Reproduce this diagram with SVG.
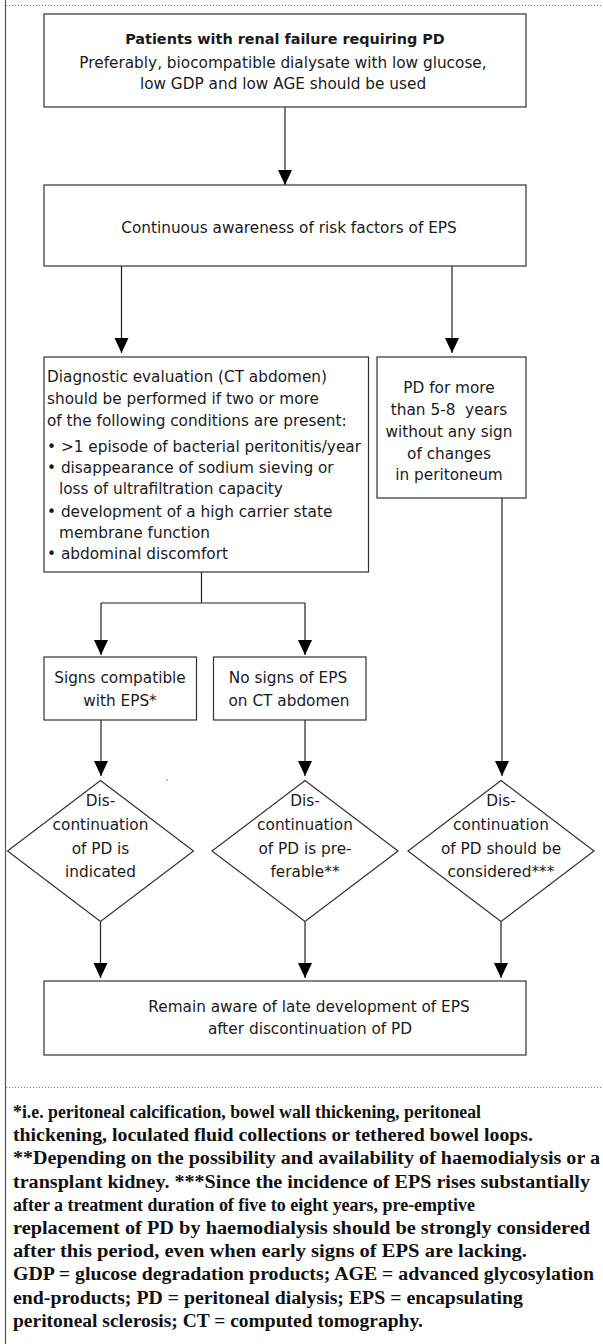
<svg xmlns="http://www.w3.org/2000/svg" width="603" height="1344" viewBox="0 0 603 1344">
<style>
.box{fill:#fff;stroke:#333;stroke-width:1.2}
.t{font-family:"DejaVu Sans","Liberation Sans",sans-serif;font-size:15.3px;fill:#1a1a1a}
.c{text-anchor:middle}
.b{font-weight:bold;font-size:14.4px}
.fn{font-family:"Liberation Serif","Times New Roman",serif;font-weight:bold;font-size:18px;fill:#111}
.ln{fill:none;stroke:#222;stroke-width:1.2}
.dot{stroke:#777;stroke-width:1;stroke-dasharray:1 2}
</style>
<defs>
<marker id="ah" markerUnits="userSpaceOnUse" markerWidth="16" markerHeight="15" refX="15" refY="7" orient="auto">
<path d="M0,0 L15,7 L0,14 z" fill="#000"/>
</marker>
</defs>
<rect width="603" height="1344" fill="#fff"/>
<g id="frame">
<line x1="5.5" y1="0" x2="5.5" y2="1344" stroke="#555" stroke-width="1.2"/>
<line class="dot" x1="6" y1="5.5" x2="603" y2="5.5"/>
<line class="dot" x1="6" y1="1087.5" x2="603" y2="1087.5"/>
</g>
<g id="connectors">
<line class="ln" x1="285" y1="107" x2="285" y2="185" marker-end="url(#ah)"/>
<line class="ln" x1="121.5" y1="266" x2="121.5" y2="353" marker-end="url(#ah)"/>
<line class="ln" x1="452" y1="266" x2="452" y2="353" marker-end="url(#ah)"/>
<polyline class="ln" points="201.5,572 201.5,603"/>
<line class="ln" x1="101" y1="603" x2="305" y2="603"/>
<line class="ln" x1="101" y1="603" x2="101" y2="655" marker-end="url(#ah)"/>
<line class="ln" x1="305" y1="603" x2="305" y2="655" marker-end="url(#ah)"/>
<line class="ln" x1="101" y1="720" x2="101" y2="776" marker-end="url(#ah)"/>
<line class="ln" x1="305" y1="720" x2="305" y2="776" marker-end="url(#ah)"/>
<line class="ln" x1="502" y1="498" x2="502" y2="776" marker-end="url(#ah)"/>
<line class="ln" x1="100.5" y1="922" x2="100.5" y2="978" marker-end="url(#ah)"/>
<line class="ln" x1="305" y1="922" x2="305" y2="978" marker-end="url(#ah)"/>
<line class="ln" x1="501" y1="922" x2="501" y2="978" marker-end="url(#ah)"/>
</g>
<g id="n1">
<rect class="box" x="44" y="14" width="482" height="93"/>
<text class="t c b" x="285" y="44">Patients with renal failure requiring PD</text>
<text class="t c" x="283" y="67.5">Preferably, biocompatible dialysate with low glucose,</text>
<text class="t c" x="283" y="88.5">low GDP and low AGE should be used</text>
</g>
<g id="n2">
<rect class="box" x="44" y="185" width="482" height="81"/>
<text class="t c" x="289" y="233">Continuous awareness of risk factors of EPS</text>
</g>
<g id="n3">
<rect class="box" x="44" y="357" width="324.5" height="215"/>
<text class="t" x="47" y="382">Diagnostic evaluation (CT abdomen)</text>
<text class="t" x="47" y="404">should be performed if two or more</text>
<text class="t" x="47" y="425.5">of the following conditions are present:</text>
<text class="t" x="47" y="451.5">• &gt;1 episode of bacterial peritonitis/year</text>
<text class="t" x="47" y="472.5">• disappearance of sodium sieving or</text>
<text class="t" x="59" y="493.5">loss of ultrafiltration capacity</text>
<text class="t" x="47" y="516.5">• development of a high carrier state</text>
<text class="t" x="59" y="537.5">membrane function</text>
<text class="t" x="47" y="559">• abdominal discomfort</text>
</g>
<g id="n4">
<rect class="box" x="377" y="357" width="149" height="141"/>
<text class="t c" x="449" y="393">PD for more</text>
<text class="t c" x="449" y="415">than 5-8&#160; years</text>
<text class="t c" x="449" y="437">without any sign</text>
<text class="t c" x="449" y="459">of changes</text>
<text class="t c" x="449" y="480">in peritoneum</text>
</g>
<g id="n5">
<rect class="box" x="44" y="657" width="152.5" height="63"/>
<text class="t c" x="120" y="683">Signs compatible</text>
<text class="t c" x="120" y="705.5">with EPS*</text>
</g>
<g id="n6">
<rect class="box" x="213.5" y="657" width="152.5" height="63"/>
<text class="t c" x="288" y="683">No signs of EPS</text>
<text class="t c" x="289" y="705.5">on CT abdomen</text>
</g>
<g id="d1">
<polygon class="box" points="100.5,780.5 193.5,851 100.5,921.5 7.5,851"/>
<text class="t c" x="100.5" y="806">Dis-</text>
<text class="t c" x="100.5" y="830">continuation</text>
<text class="t c" x="100.5" y="854">of PD is</text>
<text class="t c" x="100.5" y="877">indicated</text>
</g>
<g id="d2">
<polygon class="box" points="305,780.5 398,851 305,921.5 212,851"/>
<text class="t c" x="305" y="806">Dis-</text>
<text class="t c" x="305" y="830">continuation</text>
<text class="t c" x="305" y="854">of PD is pre-</text>
<text class="t c" x="305" y="877">ferable**</text>
</g>
<g id="d3">
<polygon class="box" points="501,780.5 594,851 501,921.5 408,851"/>
<text class="t c" x="501" y="806">Dis-</text>
<text class="t c" x="501" y="830">continuation</text>
<text class="t c" x="501" y="854">of PD should be</text>
<text class="t c" x="501" y="877">considered***</text>
</g>
<circle cx="167" cy="780" r="0.8" fill="#666"/>
<g id="n7">
<rect class="box" x="44" y="981" width="482" height="74"/>
<text class="t c" x="309" y="1012">Remain aware of late development of EPS</text>
<text class="t c" x="310" y="1033.5">after discontinuation of PD</text>
</g>
<g id="footnote">
<text class="fn" x="13" y="1118" textLength="468" lengthAdjust="spacingAndGlyphs">*i.e. peritoneal calcification, bowel wall thickening, peritoneal</text>
<text class="fn" x="13" y="1141.2" textLength="520" lengthAdjust="spacingAndGlyphs">thickening, loculated fluid collections or tethered bowel loops.</text>
<text class="fn" x="13" y="1164.4" textLength="587" lengthAdjust="spacingAndGlyphs">**Depending on the possibility and availability of haemodialysis or a</text>
<text class="fn" x="13" y="1187.6" textLength="577" lengthAdjust="spacingAndGlyphs">transplant kidney. ***Since the incidence of EPS rises substantially</text>
<text class="fn" x="13" y="1210.8" textLength="462" lengthAdjust="spacingAndGlyphs">after a treatment duration of five to eight years, pre-emptive</text>
<text class="fn" x="13" y="1234" textLength="577" lengthAdjust="spacingAndGlyphs">replacement of PD by haemodialysis should be strongly considered</text>
<text class="fn" x="13" y="1257.2" textLength="514" lengthAdjust="spacingAndGlyphs">after this period, even when early signs of EPS are lacking.</text>
<text class="fn" x="13" y="1280.4" textLength="581" lengthAdjust="spacingAndGlyphs">GDP = glucose degradation products; AGE = advanced glycosylation</text>
<text class="fn" x="13" y="1303.6" textLength="510" lengthAdjust="spacingAndGlyphs">end-products; PD = peritoneal dialysis; EPS = encapsulating</text>
<text class="fn" x="13" y="1326.8" textLength="410" lengthAdjust="spacingAndGlyphs">peritoneal sclerosis; CT = computed tomography.</text>
</g>
</svg>
